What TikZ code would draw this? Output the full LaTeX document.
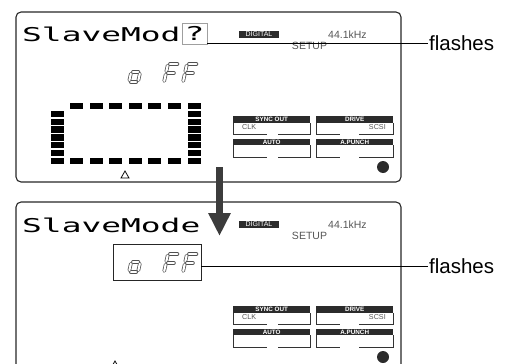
\documentclass[tikz,border=0pt]{standalone}
\usepackage{fontspec}
\usepackage{graphicx}
\setmainfont{Liberation Sans}
\newfontfamily\lcdfont{DejaVu Sans Mono}
\usetikzlibrary{arrows.meta,positioning,calc}
\definecolor{bardark}{HTML}{2B2B2B}
\definecolor{arrowgray}{HTML}{3C3C3C}
\definecolor{infogray}{HTML}{555555}
\definecolor{segline}{HTML}{505050}
\newcommand{\lcdwide}[1]{\scalebox{1.73}[1]{#1}}
\tikzset{
  panel/.style={draw=black!85, line width=1.1pt, rounded corners=5pt},
  lcdtext/.style={anchor=base west, inner sep=0pt, font=\lcdfont\fontsize{19}{20}\selectfont},
  qbox/.style={draw=gray!75, line width=0.8pt, inner sep=0pt, minimum width=25pt,
               minimum height=21pt, font=\lcdfont\fontsize{19}{20}\selectfont},
  valbox/.style={draw=black!85, line width=0.8pt, minimum width=88pt, minimum height=36pt},
  badge/.style={fill=bardark, text=white, inner sep=0pt, minimum width=40pt,
                minimum height=7pt, font=\fontsize{7}{8}\selectfont},
  infotext/.style={text=infogray, inner sep=0pt, font=\fontsize{10.5}{12}\selectfont},
  hdrbar/.style={fill=bardark, text=white, inner sep=0pt, minimum width=77pt,
                 minimum height=6.5pt, font=\fontsize{6.3}{7}\selectfont\bfseries},
  swline/.style={draw=black!80, line width=0.8pt},
  swtext/.style={text=infogray, inner sep=0pt, font=\fontsize{7.2}{8}\selectfont},
  seg/.style={draw=segline, line width=0.75pt, double=white, double distance=2.1pt, line cap=round},
  flashlbl/.style={anchor=west, inner sep=1pt, font=\fontsize{20.5}{24}\selectfont},
  callout/.style={draw=black, line width=0.8pt},
  bigarr/.style={draw=arrowgray, line width=7pt, -{Triangle[width=21pt,length=23pt]}},
}
% seven segment digits, origin = bottom left of the cell
\newcommand{\segF}[2]{%
  \begin{scope}[shift={(#1,#2)}, xslant=0.22]
    \draw[seg] (2,-18) -- (9.5,-18);
    \draw[seg] (0,-16.5) -- (0,-10.5);
    \draw[seg] (2,-9) -- (8,-9);
    \draw[seg] (0,-7.5) -- (0,-1);
  \end{scope}}
\newcommand{\sego}[2]{%
  \begin{scope}[shift={(#1,#2)}, xslant=0.22]
    \draw[seg] (1.8,-10) -- (7.2,-10);
    \draw[seg] (9,-8.3) -- (9,-1.7);
    \draw[seg] (1.8,0) -- (7.2,0);
    \draw[seg] (0,-8.3) -- (0,-1.7);
  \end{scope}}
\begin{document}
\begin{tikzpicture}[x=1pt, y=-1pt]
  \useasboundingbox (0,0) rectangle (509,364);
  \clip (0,0) rectangle (509,364);

  % both display panels
  \foreach \dy/\nm in {0/t,190/b}{
    \draw[panel] (16,12+\dy) rectangle (401,182+\dy);
    \node[badge] (digi\nm) at (259,34.5+\dy) {DIGITAL};
    \node[infotext, anchor=west] (rate\nm) at (328,35+\dy) {44.1kHz};
    \node[infotext] (setup\nm) at (309.5,46+\dy) {SETUP};
    \node[hdrbar, anchor=north west] (sync\nm) at (233,116+\dy) {SYNC OUT};
    \node[hdrbar, anchor=north west] (drive\nm) at (316,116+\dy) {DRIVE};
    \node[hdrbar, anchor=north west] (auto\nm) at (233,138.5+\dy) {AUTO};
    \node[hdrbar, anchor=north west] (punch\nm) at (316,138.5+\dy) {A.PUNCH};
    \draw[swline] (sync\nm.south west) -- ++(0,11) -- ++(34,0);
    \draw[swline] (sync\nm.south east) -- ++(0,11) -- ++(-32,0);
    \draw[swline] (drive\nm.south west) -- ++(0,11) -- ++(24,0);
    \draw[swline] (drive\nm.south east) -- ++(0,11) -- ++(-34,0);
    \draw[swline] (auto\nm.south west) -- ++(0,11.5) -- ++(34,0);
    \draw[swline] (auto\nm.south east) -- ++(0,11.5) -- ++(-32,0);
    \draw[swline] (punch\nm.south west) -- ++(0,11.5) -- ++(24,0);
    \draw[swline] (punch\nm.south east) -- ++(0,11.5) -- ++(-34,0);
    \node[swtext, anchor=west] (clk\nm) at (242,127.5+\dy) {CLK};
    \node[swtext, anchor=east] (scsi\nm) at (386,127.5+\dy) {SCSI};
    \fill[bardark] (383,167+\dy) circle (6);
  }

  % upper display
  \node[lcdtext] (modeq) at (22,41) {\lcdwide{SlaveMod}};
  \node[qbox] (qmark) at (194.5,33.5) {\lcdwide{?}};
  \sego{129}{82}
  \segF{164}{82}
  \segF{183}{82}
  \foreach \i in {0,...,5}{
    \fill (70+19.6*\i,103) rectangle ++(13,5.6);
    \fill (70+19.6*\i,158) rectangle ++(13,6);
  }
  \foreach \i in {0,...,6}
    \fill (51,158-7.9*\i) rectangle ++(13,6.2);
  \foreach \i in {0,...,7}
    \fill (188,158-7.9*\i) rectangle ++(13,6.2);
  \draw[line width=0.8pt] (121,178) -- (125,171) -- (129,178) -- cycle;

  % lower display
  \node[lcdtext] (modee) at (22,232) {\lcdwide{SlaveMode}};
  \node[valbox] (valbox) at (157,262) {};
  \sego{129}{272}
  \segF{164}{272}
  \segF{183}{272}
  \draw[line width=0.8pt] (111,368) -- (115,361) -- (119,368) -- cycle;

  % callouts
  \node[flashlbl] (flasha) at (428,43) {flashes};
  \node[flashlbl] (flashb) at (428,266) {flashes};
  \draw[callout] (qmark.east |- flasha.west) -- (flasha.west);
  \draw[callout] (valbox.east |- flashb.west) -- (flashb.west);

  % step arrow
  \coordinate (arrfrom) at (219.5,167);
  \coordinate (arrto) at (219.5,236);
  \draw[bigarr] (arrfrom) -- (arrto);
\end{tikzpicture}
\end{document}
